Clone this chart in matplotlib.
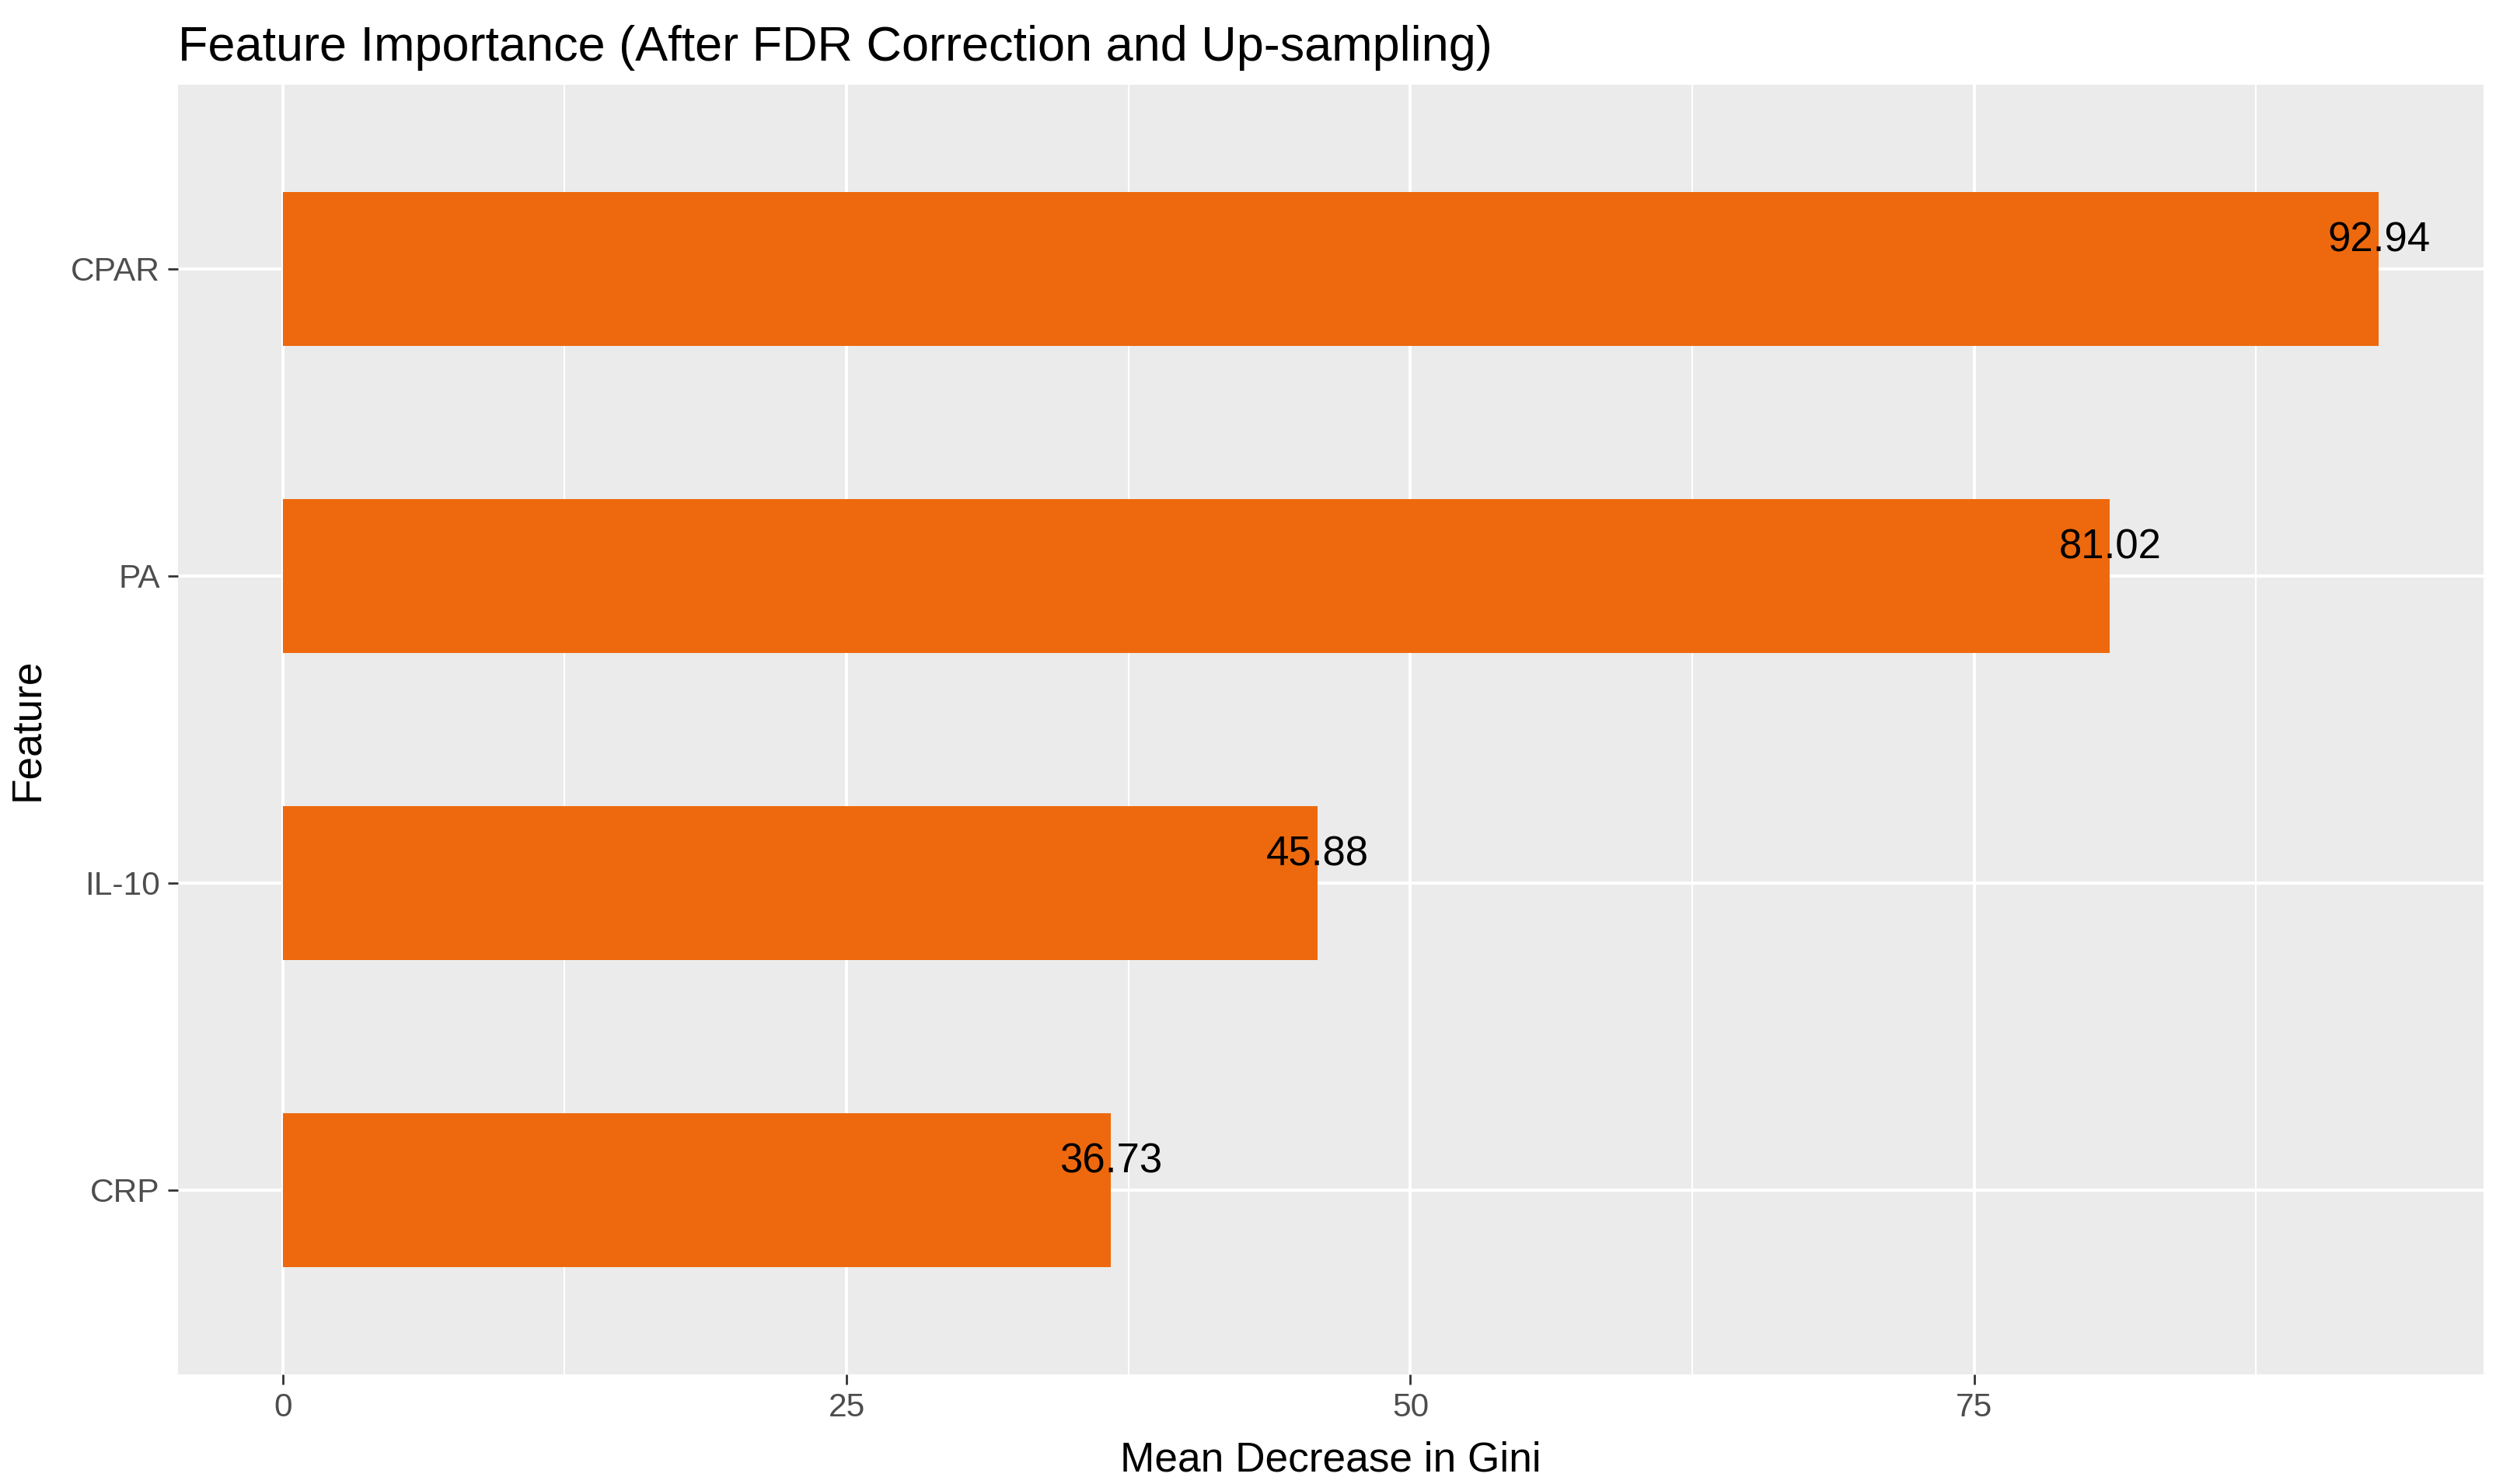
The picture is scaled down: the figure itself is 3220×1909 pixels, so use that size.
import matplotlib.pyplot as plt
import numpy as np

features = ["CRP", "IL-10", "PA", "CPAR"]
gini = [36.73, 45.88, 81.02, 92.94]
xticks = [0, 25, 50, 75]

plt.rcParams['font.family'] = ['Liberation Sans', 'DejaVu Sans']

fig = plt.figure(figsize=(16.1, 9.545), dpi=200)
ax = fig.add_axes([229/3220, 1-1768/1909, (3195-229)/3220, (1768-109)/1909])
ax.set_facecolor('#EBEBEB')

ypos = np.arange(1, len(features) + 1)
ax.barh(ypos, gini, height=0.5, color='#EE690D', zorder=3)

for y, v in zip(ypos, gini):
    ax.annotate(f"{v:.2f}", (v, y), xytext=(0, 13.2), textcoords='offset points',
                ha='center', va='center', fontsize=19, color='black', zorder=4)

xmax = max(gini)
ax.set_xlim(-0.05*xmax, xmax*1.05)
ax.set_ylim(0.4, len(features) + 0.6)

ax.set_xticks(xticks)
ax.set_xticks([12.5, 37.5, 62.5, 87.5], minor=True)
ax.set_yticks(ypos)
ax.set_yticklabels(features)

ax.grid(which='major', color='white', linewidth=1.45, zorder=1)
ax.grid(which='minor', axis='x', color='white', linewidth=0.72, zorder=1)
ax.tick_params(which='minor', length=0)
ax.tick_params(which='major', length=4.8, width=1.0, color='#333333',
               labelsize=15.3, labelcolor='#4D4D4D', pad=3.5)
for s in ax.spines.values():
    s.set_visible(False)

ax.set_xlabel("Mean Decrease in Gini", fontsize=19.2, labelpad=8)
ax.set_ylabel("Feature", fontsize=19.2, labelpad=11)
ax.set_title("Feature Importance (After FDR Correction and Up-sampling)",
             fontsize=22.7, loc='left', pad=11)

fig.savefig("out.png", dpi=200)
